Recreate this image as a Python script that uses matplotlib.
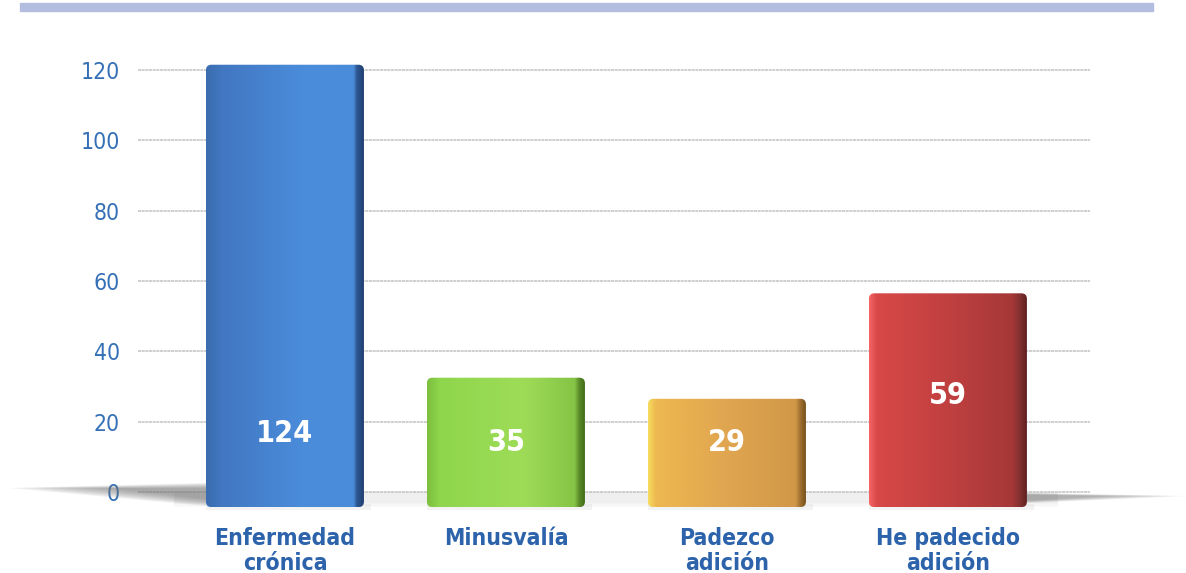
import matplotlib
matplotlib.use("Agg")
import matplotlib.pyplot as plt
import numpy as np
from matplotlib.patches import FancyBboxPatch, Rectangle, Polygon
from matplotlib.colors import LinearSegmentedColormap
from matplotlib import font_manager
from matplotlib.font_manager import FontProperties

categories = ["Enfermedad\ncrónica", "Minusvalía", "Padezco\nadición", "He padecido\nadición"]
values = [124, 35, 29, 59]
yticks = [0, 20, 40, 60, 80, 100, 120]

# styling
W, H = 1186, 573


def pick_font(bold):
    cands = []
    for f in font_manager.fontManager.ttflist:
        nm = f.name.lower()
        fn = f.fname.lower()
        narrow = ("narrow" in nm or "condensed" in nm or "condensed" in fn or "narrow" in fn
                  or str(f.stretch) in ("condensed", "semi-condensed", "extra-condensed"))
        if not narrow:
            continue
        w = f.weight if isinstance(f.weight, int) else font_manager.weight_dict.get(f.weight, 400)
        if f.style != "normal":
            continue
        if bold and w >= 600:
            cands.append((abs(w - 700), f.fname))
        if not bold and w < 600:
            cands.append((abs(w - 350), f.fname))
    if cands:
        cands.sort()
        return FontProperties(fname=cands[0][1])
    return FontProperties(family="DejaVu Sans", weight="bold" if bold else "normal")


FP_BOLD = pick_font(True)
FP_REG = pick_font(False)
BLUE_TXT = "#3570b6"
LABEL_BLUE = "#2c63ab"
GRAD = [
    [(0, "#3a6cae"), (0.1, "#4277c2"), (0.6, "#4a8cda"), (0.93, "#4a8cda"), (0.95, "#2e5894"), (1, "#1f3d6c")],
    [(0, "#7cbf3e"), (0.08, "#8fd64c"), (0.6, "#9edc58"), (0.93, "#86c446"), (0.96, "#5a8a28"), (1, "#3d6818")],
    [(0, "#f6dc5e"), (0.05, "#eeb850"), (0.5, "#e0a550"), (0.93, "#d09848"), (0.96, "#a07030"), (1, "#6e4c18")],
    [(0, "#f46464"), (0.05, "#d84848"), (0.5, "#c04040"), (0.9, "#a63838"), (0.95, "#843030"), (1, "#5a1e1e")],
]
LABEL_Y = [16.5, 14.2, 14.2, 27.3]
BASE = -4.3
TOP_SHIFT = 2.5
BAR_W = 0.715

fig = plt.figure(figsize=(W / 100, H / 100), dpi=100)
fig.patch.set_facecolor("white")

# top band
fig.patches.append(Rectangle((20 / W, 1 - 11 / H), (1153 - 20) / W, 8 / H,
                             transform=fig.transFigure, color="#b3bde0", zorder=0))

ax_left, ax_right = 138 / W, 1090 / W
y_px0, y_px120 = 492, 70
ppu = (y_px0 - y_px120) / 120.0
ax_bot_px, ax_top_px = 512, 40
ylo = (y_px0 - ax_bot_px) / ppu
yhi = (y_px0 - ax_top_px) / ppu
ax = fig.add_axes([ax_left, 1 - ax_bot_px / H, ax_right - ax_left, (ax_bot_px - ax_top_px) / H])
ax.set_xlim(-0.665, 3.643)
ax.set_ylim(ylo, yhi)
for s in ax.spines.values():
    s.set_visible(False)

# gridlines
for t in yticks:
    ax.axhline(t, color="#c2c2c2", lw=1.1, ls=(0, (2.0, 0.4)), zorder=1)


def px(x, y):
    return (x / W, 1 - y / H)


# base shadow (figure pixel coords)
for k in range(8):
    f = k / 8.0
    poly_l = Polygon([px(10 + f * 110, 488), px(206, 483 + f * 6), px(206, 506 - f * 8)],
                     closed=True, transform=fig.transFigure, color="#707070", alpha=0.10, lw=0, zorder=0.5)
    poly_r = Polygon([px(1027, 493 + f * 2), px(1186 - f * 90, 496), px(1027, 503 - f * 3)],
                     closed=True, transform=fig.transFigure, color="#707070", alpha=0.09, lw=0, zorder=0.5)
    fig.patches.append(poly_l)
    fig.patches.append(poly_r)
for k in range(4):
    ax.fill_between([-0.5, 3.5], [BASE + 0.4 * k] * 2, [0.1] * 2, color="#c8c8c8", alpha=0.07, lw=0, zorder=1.5)

aspect = ((ax_right - ax_left) * W / (3.643 + 0.665)) / ppu
xs = np.arange(len(values))
for i, (x, v) in enumerate(zip(xs, values)):
    top = v - TOP_SHIFT
    ax.fill_between([x - BAR_W / 2, x + BAR_W / 2 + 0.03], [BASE - 0.8] * 2, [BASE + 1] * 2,
                    color="#b0b0b0", alpha=0.15, lw=0, zorder=2)
    patch = FancyBboxPatch((x - BAR_W / 2, BASE), BAR_W, top - BASE,
                           boxstyle="round,pad=0,rounding_size=0.025", mutation_aspect=aspect,
                           facecolor="none", edgecolor="none", zorder=3)
    ax.add_patch(patch)
    cmap = LinearSegmentedColormap.from_list(f"g{i}", GRAD[i])
    grad = np.linspace(0, 1, 256).reshape(1, -1)
    im = ax.imshow(grad, cmap=cmap, aspect="auto", extent=(x - BAR_W / 2, x + BAR_W / 2, BASE, top),
                   zorder=3, interpolation="bilinear")
    im.set_clip_path(patch)
    ax.text(x, LABEL_Y[i], str(v), ha="center", va="center", color="white",
            fontproperties=FP_BOLD, fontsize=22, zorder=5)

ax.set_xlim(-0.665, 3.643)
ax.set_ylim(ylo, yhi)
ax.set_yticks(yticks)
ax.set_yticklabels([str(t) for t in yticks], color=BLUE_TXT, fontproperties=FP_REG, fontsize=16.5)
ax.tick_params(axis="y", length=0, pad=13)
ax.set_xticks(xs)
ax.set_xticklabels(categories, color=LABEL_BLUE, fontproperties=FP_BOLD, fontsize=16.5,
                   linespacing=1.1)
ax.tick_params(axis="x", length=0, pad=11)

fig.savefig("out.png", dpi=100, facecolor="white")
